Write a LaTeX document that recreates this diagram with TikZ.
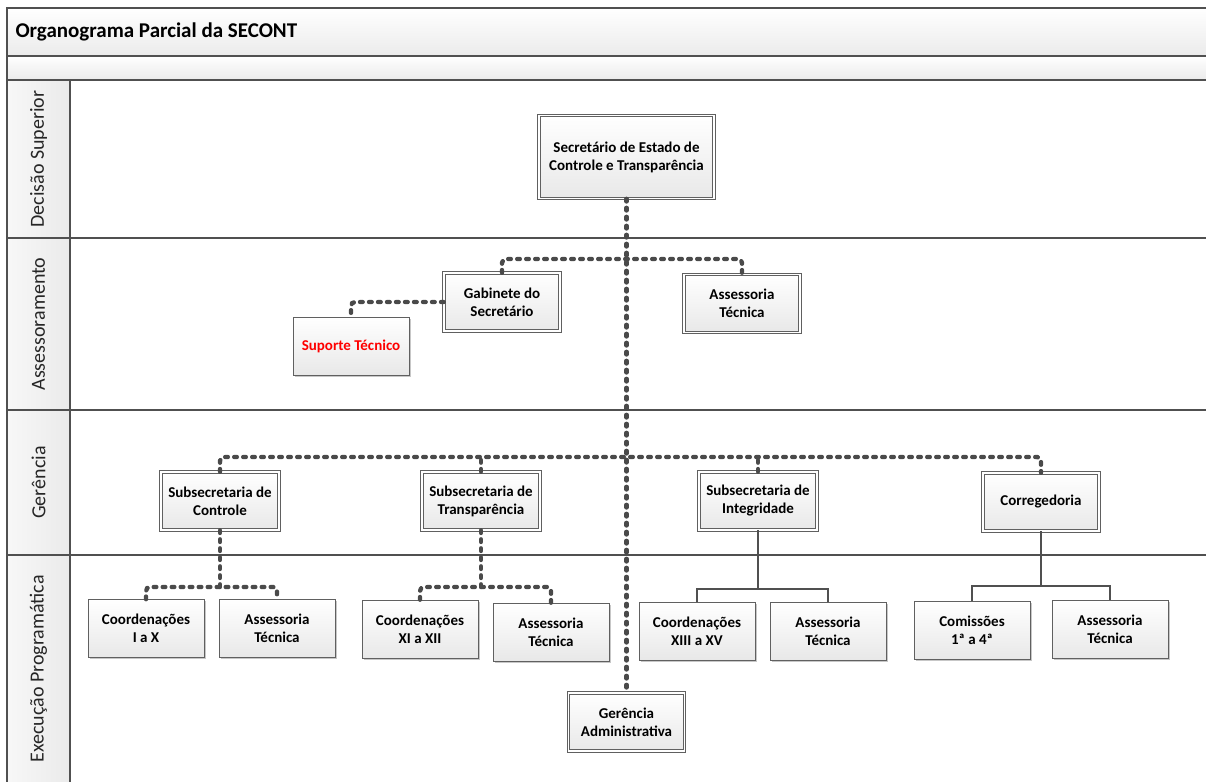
\documentclass[tikz,border=0pt]{standalone}
\usepackage{fontspec}
\setmainfont{Carlito}
\usetikzlibrary{shadows}
\definecolor{conn}{HTML}{4A4A4A}
\definecolor{framec}{HTML}{505050}
\definecolor{boxline}{HTML}{606060}
\definecolor{redtext}{HTML}{FF0000}
\begin{document}
\begin{tikzpicture}[x=1pt,y=-1pt,
  box/.style={draw=boxline, line width=0.7pt, top color=white, bottom color=black!9,
    minimum width=116pt, minimum height=58pt, align=center, inner sep=1pt,
    font=\fontsize{15}{18}\selectfont\bfseries,
    drop shadow={shadow xshift=1.6pt, shadow yshift=-1.6pt, opacity=0.22, fill=black}},
  dbox/.style={box, double=white, double distance=1.8pt},
  lane/.style={rotate=90, font=\fontsize{20}{22}\selectfont, text=black!85},
  dotc/.style={draw=conn, line width=4.4pt, dash pattern=on 2.6pt off 6.4pt, line cap=round, rounded corners=4pt},
  solidc/.style={draw=framec, line width=1.3pt},
  framel/.style={draw=framec, line width=1.3pt}
]
\useasboundingbox (0,0) rectangle (1206,781);
% header rows
\fill[top color=white, bottom color=black!8] (7,8) rectangle (1210,56);
\fill[top color=white, bottom color=black!8] (7,56) rectangle (1210,80);
\fill[left color=black!3, right color=black!8] (7,80) rectangle (70,790);
\draw[framel] (1210,8) -- (7,8) -- (7,790);
\draw[framel] (7,56) -- (1210,56);
\draw[framel] (7,80) -- (1210,80);
\draw[framel] (7,238) -- (1210,238);
\draw[framel] (7,410) -- (1210,410);
\draw[framel] (7,555) -- (1210,555);
\draw[framel] (70,80) -- (70,790);
\node[anchor=west, font=\fontsize{21}{24}\selectfont\bfseries] (title) at (12,32) {Organograma Parcial da SECONT};
% lane labels
\node[lane] (l1) at (38.5,159) {Decisão Superior};
\node[lane] (l2) at (38.5,324) {Assessoramento};
\node[lane] (l3) at (38.5,482.5) {Gerência};
\node[lane] (l4) at (38.5,669) {Execução Programática};
% boxes
\node[dbox, minimum width=175pt, minimum height=83pt] (sec) at (626.5,157) {Secretário de Estado de\\Controle e Transparência};
\node[dbox] (gab) at (502,302) {Gabinete do\\Secretário};
\node[dbox] (asst0) at (742,303.5) {Assessoria\\Técnica};
\node[box, text=redtext] (sup) at (351,346) {Suporte Técnico};
\node[dbox, minimum width=118pt] (sc) at (220,501) {Subsecretaria de\\Controle};
\node[dbox, minimum width=118pt] (st) at (481,501) {Subsecretaria de\\Transparência};
\node[dbox, minimum width=118pt] (si) at (758,501) {Subsecretaria de\\Integridade};
\node[dbox] (cor) at (1041,502) {Corregedoria};
\node[box] (c1) at (146,628.5) {Coordenações\\I a X};
\node[box] (a1) at (277,628.5) {Assessoria\\Técnica};
\node[box] (c2) at (420,629) {Coordenações\\XI a XII};
\node[box] (a2) at (551,632) {Assessoria\\Técnica};
\node[box] (c3) at (697,631) {Coordenações\\XIII a XV};
\node[box] (a3) at (828,631) {Assessoria\\Técnica};
\node[box] (c4) at (972,630) {Comissões\\1ª a 4ª};
\node[box] (a4) at (1110,629) {Assessoria\\Técnica};
\node[dbox] (ga) at (626.5,722) {Gerência\\Administrativa};
% junction coordinates
\coordinate (j1) at (626.5,259);
\coordinate (j2) at (626.5,457);
\coordinate (k1) at (220,587);
\coordinate (k2) at (481,587);
\coordinate (k3) at (758,589);
\coordinate (k4) at (1041,586);
% connectors
\draw[dotc] (sec.south) -- (ga.north);
\draw[dotc] (gab.north) |- (j1) -| (asst0.north);
\draw[dotc] (gab.west) -| (sup.north);
\draw[dotc] (sc.north) |- (cor.north |- j2) -- (cor.north);
\draw[dotc] (st.north) -- (st.north |- j2);
\draw[dotc] (si.north) -- (si.north |- j2);
\draw[dotc] (sc.south) -- (k1);
\draw[dotc] (c1.north) |- (a1.north |- k1) -- (a1.north);
\draw[dotc] (st.south) -- (k2);
\draw[dotc] (c2.north) |- (a2.north |- k2) -- (a2.north);
\draw[solidc] (si.south) -- (k3);
\draw[solidc] (c3.north) |- (a3.north |- k3) -- (a3.north);
\draw[solidc] (cor.south) -- (k4);
\draw[solidc] (c4.north) |- (a4.north |- k4) -- (a4.north);
\end{tikzpicture}
\end{document}
